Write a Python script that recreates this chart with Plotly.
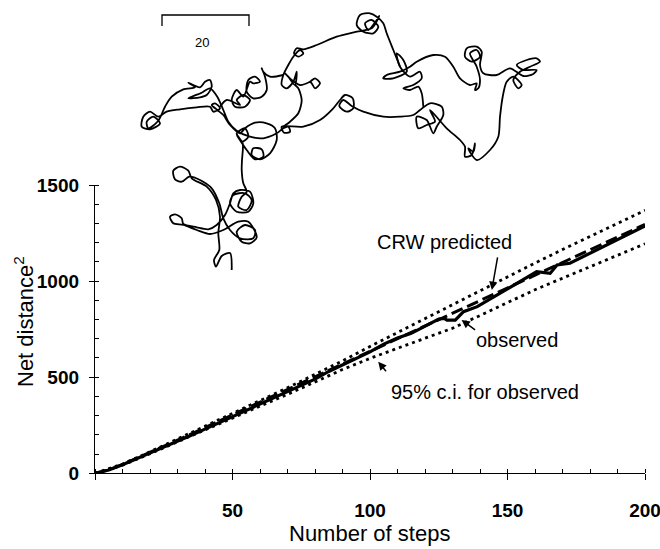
import plotly.graph_objects as go

# ---------------- data ----------------
obs_steps = [0, 5, 10, 15, 20, 25, 30, 35, 40, 45, 50, 55, 60, 65, 70, 75, 80, 85, 90, 95, 100,
             105, 110, 115, 120, 125, 127, 128, 131, 134, 139, 148.5, 155.7, 160.6, 165.5, 168,
             172.7, 182.4, 188.5, 194, 200]
observed = [0, 17, 44, 74, 104, 135, 166, 198, 230, 262, 294, 326, 358, 390, 422, 456, 490, 530, 565, 600, 632,
            672, 704, 728, 767, 803, 806, 797, 797, 841, 867, 945, 1006, 1049, 1040, 1084,
            1093, 1162, 1205, 1245, 1287]

crw_steps = [0, 5, 10, 20, 30, 40, 50, 60, 70, 80, 90, 100, 110, 120, 130, 140, 150, 160, 170, 180, 190, 200]
crw_pred = [0, 18, 46, 108, 172, 238, 304, 370, 436, 502, 568, 634, 700, 766, 832, 898, 964, 1030, 1096,
            1162, 1228, 1295]

ci_steps = [0, 10, 20, 30, 40, 50, 60, 70, 80, 90, 100, 110, 120, 130, 140, 150, 160, 170, 180, 190, 200]
ci_lower = [0, 42, 102, 163, 225, 287, 349, 411, 475, 540, 598, 650, 703, 755, 821, 889, 955, 1015, 1076,
            1135, 1194]
ci_upper = [0, 48, 112, 178, 244, 310, 377, 445, 515, 585, 660, 733, 805, 875, 950, 1024, 1094, 1164, 1234,
            1300, 1368]

x_tick_step = 50
y_tick_step = 500

# movement path drawn above the chart (page pixel coordinates)
path_pts = [
    [(231.7, 270), (230, 253), (221.7, 256), (216, 266.7), (214, 260), (219.3, 250), (218.3, 233), (220, 216.7),
     (216, 200), (206.7, 186.7), (191.7, 178.3), (188.3, 170.7), (180, 166.7), (173.3, 170.7), (175, 179.3),
     (181.7, 181.7), (189.3, 176.7), (200, 180), (211.7, 188.3), (219.3, 203.3), (223.3, 218.3), (230, 230),
     (240, 238.3), (253.3, 238.3), (255, 230), (245, 225), (236.7, 231.7), (241.7, 241.7), (250, 243.3),
     (256.7, 237.3), (248.3, 221.7), (238.3, 221.7), (223.3, 230), (210, 234), (196.7, 230), (183.3, 225),
     (173.3, 223.3), (170, 216.7), (175, 214.3), (181.7, 218.3), (183.3, 224), (196.7, 227.3), (208.3, 229.3),
     (216.7, 225), (225, 215), (230, 203.3), (233.3, 193.3), (240, 190), (250, 191.7), (253.3, 203.3),
     (248.3, 211.7), (236.7, 211.7), (230, 203.3), (233.3, 195), (245, 193.3), (251.7, 200), (246.7, 210),
     (238.3, 206.7), (241.7, 196.7), (246.7, 191.7), (243.3, 183.3), (241.7, 170), (242, 160), (242.7, 143.3),
     (236.7, 133.3), (245, 128.3), (248.3, 136.7), (241.7, 141.7), (236.7, 135), (246.7, 150), (255, 159.3),
     (263.3, 156.7), (261.7, 149.3), (253.3, 148.3), (251.7, 155), (260, 159.3), (270, 153.3), (276.7, 140),
     (275, 128.3), (266.7, 123.3), (255, 122.7), (245, 128.3), (240, 133.3), (230, 125), (223.3, 115),
     (217.3, 110), (211.7, 105), (215, 103.3), (220, 108.3), (213.3, 111.7), (210, 106.7), (196.7, 107.3),
     (180, 109.3), (166.7, 111.7), (158.3, 116.7), (150, 111.7), (143.3, 116.7), (141.7, 126.7), (150, 129.3),
     (160, 123.3), (153.3, 116.7), (146.7, 121.7), (148.3, 128.3), (158.3, 120.7), (165, 106.7), (171.7, 96.7),
     (183.3, 89.3), (195, 87.3), (188.3, 82.7), (200, 87.3), (205, 81.7), (210, 80), (211.7, 86.7),
     (206.7, 95), (200, 97.3), (188.3, 98.3), (201.7, 92.7), (210, 88.3), (217.3, 96.7), (223.3, 110),
     (228.3, 121.7), (236.7, 130.7), (250, 136.7), (263.3, 138.3), (276.7, 133.3), (283.3, 128.3),
     (288.3, 126.7), (290, 131.7), (284, 132.7), (281.7, 126.7), (303.3, 126.7), (320, 120), (333.3, 108.3),
     (340, 100), (345, 95), (352.7, 98.3), (353.3, 108.3), (346.7, 111.7), (339.3, 106), (343.3, 100),
     (351.7, 106), (363.3, 111.7), (383.3, 116.7), (400, 116.7), (413.3, 115), (420, 110), (430, 103.3),
     (441.7, 106.7), (443.3, 115), (436.7, 126.7), (433.3, 133.3), (426.7, 120), (416.7, 116.7),
     (418.3, 128.3), (426.7, 125), (435, 121.7), (430, 110), (446.7, 128.3), (460, 140), (465, 146.7),
     (465, 156.7), (471.7, 155), (475, 143.3), (473.3, 151.7), (468.3, 148.3), (476.7, 160), (490, 150),
     (498.3, 136.7), (500, 116.7), (502.7, 96.7), (506.7, 81.7), (513.3, 76.7), (521.7, 85), (518.3, 88.3),
     (513.3, 80), (520, 71.7), (530, 66.7), (540, 61.7), (536.7, 58.3), (526.7, 60), (516.7, 65), (523.3, 70),
     (536.7, 70), (533.3, 74), (523.3, 76), (510, 68.3), (496.7, 75), (483.3, 73.3), (480, 65), (481.7, 51.7),
     (476.7, 46.7), (466.7, 48.3), (465, 56.7), (471.7, 61.7), (480, 56.7), (476.7, 50), (470, 53.3),
     (476.7, 66.7), (480, 80), (478.3, 88.3), (475, 90), (476.7, 83.3), (470, 85), (460, 78.3), (453.3, 66.7),
     (445, 56.7), (433.3, 55), (416.7, 61.7), (410, 66.7), (400, 71.7), (386.7, 75), (383.3, 78.3),
     (393.3, 78.3), (406.7, 71.7), (403.3, 60), (396.7, 53.3), (400, 66.7), (410, 76.7), (420, 71.7),
     (421.7, 78.3), (413.3, 85), (403.3, 88.3), (410, 90), (418.3, 86.7), (421.7, 93.3), (423.3, 106.7)],
    [(400, 66.7), (393.3, 50), (386.7, 33.3), (383.3, 23.3), (376.7, 16.7), (370, 13.3), (360, 15), (356.7, 25),
     (363.3, 31.7), (373.3, 33.3), (378.3, 26.7), (371.7, 20), (365, 23.3), (368.3, 30), (376.7, 20),
     (379.3, 16), (372, 28), (356.7, 31.7), (336.7, 36.7), (316.7, 45), (303.3, 49.3), (296.7, 48.3),
     (294, 53.3), (298.3, 56.7), (303.3, 53.3), (300, 50), (293.3, 56.7), (288.3, 65), (283.3, 75),
     (281.7, 85), (286.7, 88.3), (293.3, 81.7), (296.7, 71.7), (295, 85), (288.3, 76.7), (285, 73.3),
     (291.7, 80), (300, 85), (310, 81.7), (315, 78.3), (320, 83.3), (315, 88.3), (311.7, 83.3), (310, 81.7)],
    [(295, 85), (298.3, 88.3), (301.7, 100), (298.3, 113.3), (290, 121.7), (283.3, 126.7)],
    [(283.3, 75), (270, 76.7), (263.3, 71.7), (261.7, 68.3), (265, 76.7), (266.7, 90), (261.7, 96.7),
     (253.3, 98.3), (246.7, 91.7), (248.3, 80), (255, 76.7), (260, 81.7), (253.3, 83.3), (250, 81.7),
     (243.3, 96.7), (236.7, 90), (231.7, 100), (235, 106.7), (245, 106.7), (250, 100), (243.3, 95),
     (236.7, 100), (240, 105), (226.7, 100), (220, 106.7)],
]
scale_bar_x = [162, 162, 249, 249]
scale_bar_y = [26, 15, 15, 26]

# ---------------- figure ----------------
W, H = 660, 549
FONT = "Liberation Sans, Arial, sans-serif"

fig = go.Figure()

fig.add_trace(go.Scatter(x=ci_steps, y=ci_upper, mode="lines",
                         line=dict(color="black", width=2.8, dash="3px,4px"), showlegend=False))
fig.add_trace(go.Scatter(x=ci_steps, y=ci_lower, mode="lines",
                         line=dict(color="black", width=2.8, dash="3px,4px"), showlegend=False))
fig.add_trace(go.Scatter(x=crw_steps, y=crw_pred, mode="lines",
                         line=dict(color="black", width=3, dash="12px,5px"), showlegend=False))
fig.add_trace(go.Scatter(x=obs_steps, y=observed, mode="lines",
                         line=dict(color="black", width=3.2), showlegend=False))

tx, ty = [], []
for seg in path_pts:
    for (a, b) in seg:
        tx.append(a)
        ty.append(b)
    tx.append(None)
    ty.append(None)
fig.add_trace(go.Scatter(x=tx, y=ty, mode="lines", xaxis="x2", yaxis="y2",
                         line=dict(color="black", width=1.8, shape="spline", smoothing=0.8),
                         connectgaps=False, showlegend=False))
fig.add_trace(go.Scatter(x=scale_bar_x, y=scale_bar_y, mode="lines", xaxis="x2", yaxis="y2",
                         line=dict(color="black", width=1.3), showlegend=False))

x0_px, x1_px = 95, 645
y0_px, y1_px = 473.3, 185

fig.update_layout(
    width=W, height=H,
    margin=dict(l=0, r=0, t=0, b=0, autoexpand=False),
    paper_bgcolor="white", plot_bgcolor="rgba(0,0,0,0)",
    font=dict(family=FONT, color="black"),
    xaxis=dict(domain=[x0_px / W, x1_px / W], range=[0, 200], tickmode="linear", tick0=0, dtick=x_tick_step,
               labelalias={"0": " "},
               showgrid=False, zeroline=False, showline=True, linecolor="black", linewidth=1.3,
               ticks="outside", ticklen=6, tickwidth=1.3, tickcolor="black",
               tickfont=dict(family=FONT, size=19, color="black", weight="bold"),
               ticklabelstandoff=14, ticklabeloverflow="allow", automargin=False,
               minor=dict(ticks="inside", dtick=10, tick0=0, ticklen=4, tickwidth=1, tickcolor="black",
                          showgrid=False),
               anchor="y"),
    yaxis=dict(domain=[(H - y0_px) / H, (H - y1_px) / H], range=[0, 1500], tickmode="linear", tick0=0,
               dtick=y_tick_step,
               showgrid=False, zeroline=False, showline=True, linecolor="black", linewidth=1.3,
               ticks="outside", ticklen=5, tickwidth=1.3, tickcolor="black",
               tickfont=dict(family=FONT, size=19, color="black", weight="bold"),
               ticklabelstandoff=6, ticklabeloverflow="allow", automargin=False,
               minor=dict(ticks="inside", dtick=100, tick0=0, ticklen=4, tickwidth=1, tickcolor="black",
                          showgrid=False),
               anchor="x"),
    xaxis2=dict(domain=[0, 1], range=[0, W], visible=False, anchor="y2", fixedrange=True),
    yaxis2=dict(domain=[0, 1], range=[H, 0], visible=False, anchor="x2", fixedrange=True),
)

ann = [
    dict(text="Number of steps", xref="paper", yref="paper", x=370 / W, y=(H - 533) / H,
         showarrow=False, font=dict(size=22), xanchor="center", yanchor="middle"),
    dict(text="Net distance<sup>2</sup>", xref="paper", yref="paper", x=24 / W, y=(H - 322) / H,
         showarrow=False, font=dict(size=22), textangle=-90, xanchor="center", yanchor="middle"),
    dict(text="CRW predicted", xref="paper", yref="paper", x=444 / W, y=(H - 242) / H,
         showarrow=False, font=dict(size=20), xanchor="center", yanchor="middle"),
    dict(text="observed", xref="paper", yref="paper", x=517 / W, y=(H - 340) / H,
         showarrow=False, font=dict(size=20), xanchor="center", yanchor="middle"),
    dict(text="95% c.i. for observed", xref="paper", yref="paper", x=485 / W, y=(H - 392) / H,
         showarrow=False, font=dict(size=20), xanchor="center", yanchor="middle"),
    dict(text="", x=144.3, y=954, xref="x", yref="y", ax=6, ay=-34, showarrow=True,
         arrowhead=2, arrowsize=1.1, arrowwidth=1.5, arrowcolor="black", standoff=0),
    dict(text="", x=133.3, y=798, xref="x", yref="y", ax=15, ay=11, showarrow=True,
         arrowhead=2, arrowsize=1.1, arrowwidth=1.5, arrowcolor="black", standoff=0),
    dict(text="", x=103, y=580, xref="x", yref="y", ax=9, ay=11, showarrow=True,
         arrowhead=2, arrowsize=1.1, arrowwidth=1.5, arrowcolor="black", standoff=0),
    dict(text="20", xref="x2", yref="y2", x=202, y=42, showarrow=False, font=dict(size=13),
         xanchor="center", yanchor="middle"),
]
fig.update_layout(annotations=ann)

fig.write_html("out.html")
